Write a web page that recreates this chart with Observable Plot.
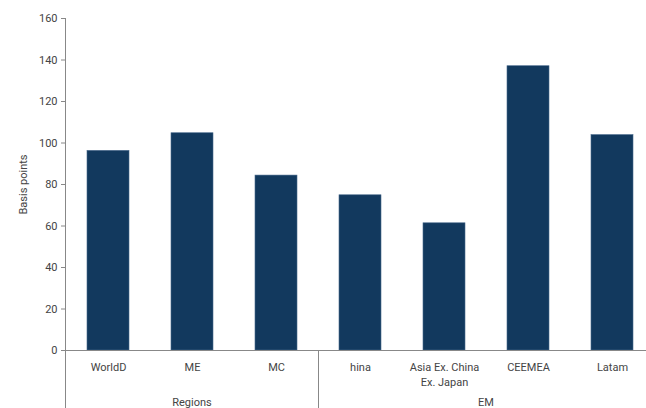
<!DOCTYPE html>
<html>
<head>
<meta charset="utf-8">
<script src="https://cdn.jsdelivr.net/npm/d3@7"></script>
<script src="https://cdn.jsdelivr.net/npm/@observablehq/plot@0.6"></script>
<style>
  html, body { margin: 0; padding: 0; background: #fff; overflow: hidden; }
  #chart svg { overflow: visible; display: block; }
</style>
</head>
<body>
<div id="chart"></div>
<script>
const categories = ["WorldD", "ME", "MC", "hina", "Asia Ex. China\nEx. Japan", "CEEMEA", "Latam"];
const values = [96.2, 104.7, 84.3, 74.8, 61.3, 137, 103.8];
const groups = ["Regions", "Regions", "Regions", "EM", "EM", "EM", "EM"];
const yTicks = [0, 20, 40, 60, 80, 100, 120, 140, 160];
const yLabel = "Basis points";

const data = categories.map((c, i) => ({category: c, value: values[i], group: groups[i]}));

const textColor = "#444";
const lineColor = "#888";
const font = "Roboto, 'Noto Sans', sans-serif";

const plot = Plot.plot({
  width: 646,
  height: 408,
  marginLeft: 66,
  marginRight: -8,
  marginTop: 18,
  marginBottom: 58,
  style: {fontFamily: font, fontSize: "11px", color: textColor, background: "#fff"},
  x: {domain: categories, paddingInner: 0.5, paddingOuter: 0.25, align: 0.5},
  y: {domain: [0, 160]},
  marks: [
    Plot.barY(data, {x: "category", y: "value", fill: "#12395e", stroke: "#47688a", strokeWidth: 0.6}),
    Plot.axisY({ticks: yTicks, tickSize: 5, tickPadding: 4, stroke: lineColor, label: yLabel, labelAnchor: "center", labelOffset: 47, labelArrow: "none"}),
    Plot.axisX({tickSize: 0, tickPadding: 10, label: null, lineHeight: 1.35}),
    Plot.ruleY([0], {stroke: lineColor, strokeWidth: 1})
  ]
});

document.getElementById("chart").appendChild(plot);

// Group structure lines and labels, placed from the x scale
const xs = plot.scale("x");
const center = c => xs.apply(c) + xs.bandwidth / 2;
const svg = d3.select(plot);
const yZero = plot.scale("y").apply(0);
const yTop = plot.scale("y").apply(160);
const H = 408;

// left axis line extending below the baseline
const leftX = Math.round(xs.range[0]) - 0.5;
svg.append("line").attr("x1", leftX).attr("x2", leftX).attr("y1", yTop).attr("y2", H)
  .attr("stroke", lineColor);

const groupNames = Array.from(new Set(groups));
groupNames.forEach((g, gi) => {
  const members = categories.filter((c, i) => groups[i] === g);
  const cx = d3.mean(members, center);
  svg.append("text").attr("x", cx).attr("y", H - 2)
    .attr("text-anchor", "middle").attr("fill", textColor)
    .attr("font-family", font).attr("font-size", "11px")
    .text(g);
  if (gi > 0) {
    const prevLast = categories[groups.indexOf(g) - 1];
    const sx = Math.round((center(prevLast) + center(members[0])) / 2) + 0.5;
    svg.append("line").attr("x1", sx).attr("x2", sx).attr("y1", yZero).attr("y2", H)
      .attr("stroke", lineColor);
  }
});
</script>
</body>
</html>
